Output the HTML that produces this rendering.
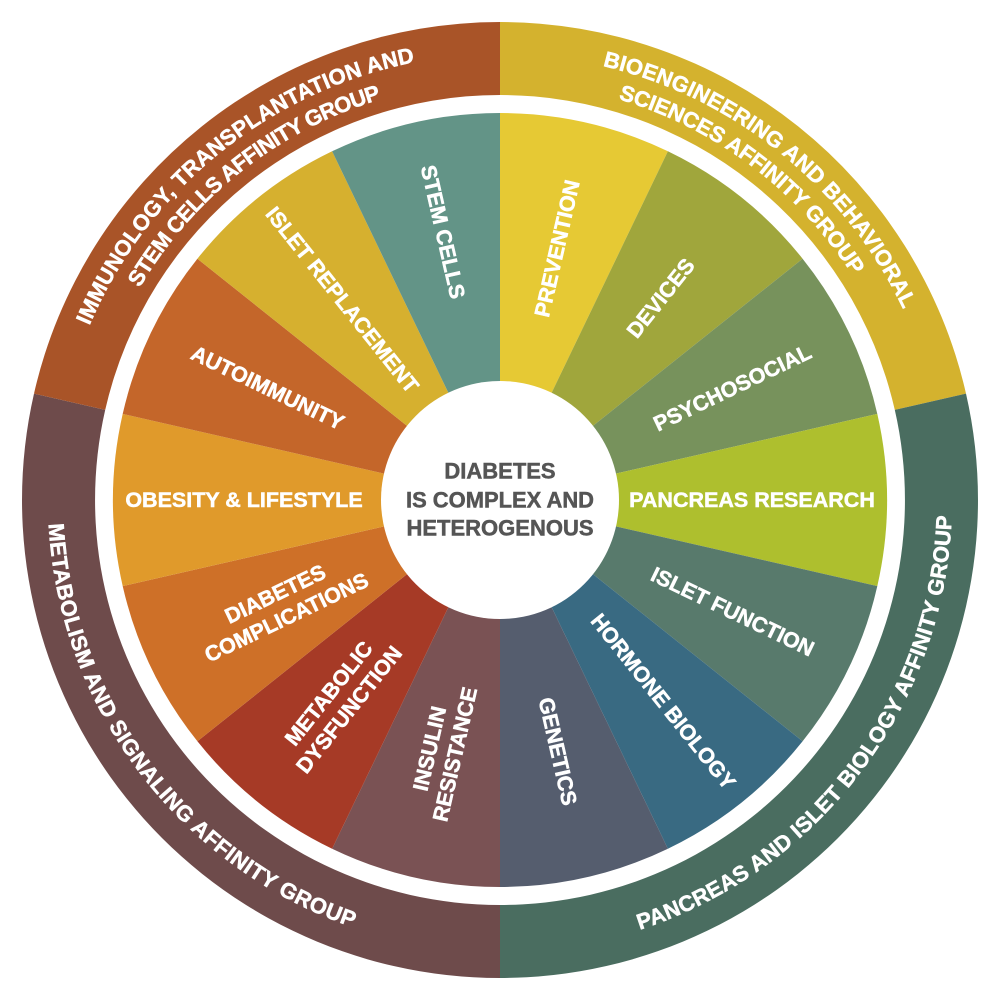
<!DOCTYPE html>
<html><head><meta charset="utf-8"><style>
html,body{margin:0;padding:0;background:#fff;}
svg{display:block;}
text{font-family:"Liberation Sans",sans-serif;font-weight:bold;}
.w{fill:#fff;font-size:21.5px;stroke:#fff;stroke-width:0.5;}
.r{font-size:22px;}
</style></head><body>
<svg width="1000" height="1000" viewBox="0 0 1000 1000" xmlns="http://www.w3.org/2000/svg">
<rect width="1000" height="1000" fill="#fff"/>
<path d="M500,22 A478,478 0 0 1 966.0,393.6 L894.8,409.9 A405,405 0 0 0 500,95 Z" fill="#d4b22e"/>
<path d="M966.0,393.6 A478,478 0 0 1 500,978 L500,905 A405,405 0 0 0 894.8,409.9 Z" fill="#4a6d60"/>
<path d="M500,978 A478,478 0 0 1 34.0,393.6 L105.2,409.9 A405,405 0 0 0 500,905 Z" fill="#6e4b4b"/>
<path d="M34.0,393.6 A478,478 0 0 1 500,22 L500,95 A405,405 0 0 0 105.2,409.9 Z" fill="#a95428"/>
<path d="M500,500 L500,113 A387,387 0 0 1 667.9,151.3 Z" fill="#e6c934"/>
<path d="M500,500 L667.9,151.3 A387,387 0 0 1 802.6,258.7 Z" fill="#a0a63c"/>
<path d="M500,500 L802.6,258.7 A387,387 0 0 1 877.3,413.9 Z" fill="#77925c"/>
<path d="M500,500 L877.3,413.9 A387,387 0 0 1 877.3,586.1 Z" fill="#aebf2e"/>
<path d="M500,500 L877.3,586.1 A387,387 0 0 1 802.6,741.3 Z" fill="#587a6c"/>
<path d="M500,500 L802.6,741.3 A387,387 0 0 1 667.9,848.7 Z" fill="#396a82"/>
<path d="M500,500 L667.9,848.7 A387,387 0 0 1 500,887 Z" fill="#555d6e"/>
<path d="M500,500 L500,887 A387,387 0 0 1 332.1,848.7 Z" fill="#7a5254"/>
<path d="M500,500 L332.1,848.7 A387,387 0 0 1 197.4,741.3 Z" fill="#a63a26"/>
<path d="M500,500 L197.4,741.3 A387,387 0 0 1 122.7,586.1 Z" fill="#ce7028"/>
<path d="M500,500 L122.7,586.1 A387,387 0 0 1 122.7,413.9 Z" fill="#e09a2b"/>
<path d="M500,500 L122.7,413.9 A387,387 0 0 1 197.4,258.7 Z" fill="#c4662a"/>
<path d="M500,500 L197.4,258.7 A387,387 0 0 1 332.1,151.3 Z" fill="#d6b02f"/>
<path d="M500,500 L332.1,151.3 A387,387 0 0 1 500,113 Z" fill="#639487"/>
<circle cx="500" cy="500" r="119" fill="#fff"/>
<g fill="#555" stroke="#555" stroke-width="0.5" font-size="22" text-anchor="middle" dominant-baseline="central">
<text x="500" y="471">DIABETES</text>
<text x="500" y="500" textLength="188" lengthAdjust="spacingAndGlyphs">IS COMPLEX AND</text>
<text x="500" y="528">HETEROGENOUS</text>
</g>
<defs>
<path id="p1" d="M78.3,645.2 A446,446 0 0 1 729.7,117.7"/>
<path id="p2" d="M102.4,629.2 A418,418 0 0 1 721.5,145.5"/>
<path id="p3" d="M270.3,117.7 A446,446 0 0 1 921.7,645.2"/>
<path id="p4" d="M272.4,149.4 A418,418 0 0 1 899.7,622.2"/>
<path id="p5" d="M367.8,932.2 A452,452 0 0 0 879.1,253.8"/>
<path id="p6" d="M120.9,253.8 A452,452 0 0 0 632.2,932.2"/>
</defs>
<g text-anchor="middle">
<text class="w r"><textPath href="#p1" startOffset="50%" textLength="436" lengthAdjust="spacing">IMMUNOLOGY, TRANSPLANTATION AND</textPath></text>
<text class="w r"><textPath href="#p2" startOffset="50%" textLength="314" lengthAdjust="spacing">STEM CELLS AFFINITY GROUP</textPath></text>
<text class="w r"><textPath href="#p3" startOffset="50%" textLength="400" lengthAdjust="spacing">BIOENGINEERING AND BEHAVIORAL</textPath></text>
<text class="w r"><textPath href="#p4" startOffset="50%" textLength="300" lengthAdjust="spacing">SCIENCES AFFINITY GROUP</textPath></text>
<text class="w r"><textPath href="#p5" startOffset="50%" textLength="552" lengthAdjust="spacing">PANCREAS AND ISLET BIOLOGY AFFINITY GROUP</textPath></text>
<text class="w r"><textPath href="#p6" startOffset="50%" textLength="536" lengthAdjust="spacing">METABOLISM AND SIGNALING AFFINITY GROUP</textPath></text>
</g>
<g class="w" text-anchor="middle" dominant-baseline="central">
<text transform="translate(557.4,248.5) rotate(-77.14)">PREVENTION</text>
<text transform="translate(660.9,298.3) rotate(-51.43)">DEVICES</text>
<text transform="translate(732.5,388.1) rotate(-25.71)">PSYCHOSOCIAL</text>
<text transform="translate(752,500)">PANCREAS RESEARCH</text>
<text transform="translate(732.5,611.9) rotate(25.71)">ISLET FUNCTION</text>
<text transform="translate(663,701.7) rotate(51.43)">HORMONE BIOLOGY</text>
<text transform="translate(557.4,751.5) rotate(77.14)">GENETICS</text>
<g transform="translate(442.6,751.5) rotate(-77.14)"><text y="-13">INSULIN</text><text y="13">RESISTANCE</text></g>
<g transform="translate(339.1,701.7) rotate(-51.43)"><text y="-13">METABOLIC</text><text y="13">DYSFUNCTION</text></g>
<g transform="translate(281,606) rotate(-25.71)"><text y="-13">DIABETES</text><text y="13">COMPLICATIONS</text></g>
<text transform="translate(244,500)">OBESITY &amp; LIFESTYLE</text>
<text transform="translate(267.5,388.1) rotate(25.71)">AUTOIMMUNITY</text>
<text transform="translate(342,300) rotate(51.43)">ISLET REPLACEMENT</text>
<text transform="translate(442.6,232) rotate(77.14)">STEM CELLS</text>
</g>
</svg>
</body></html>
